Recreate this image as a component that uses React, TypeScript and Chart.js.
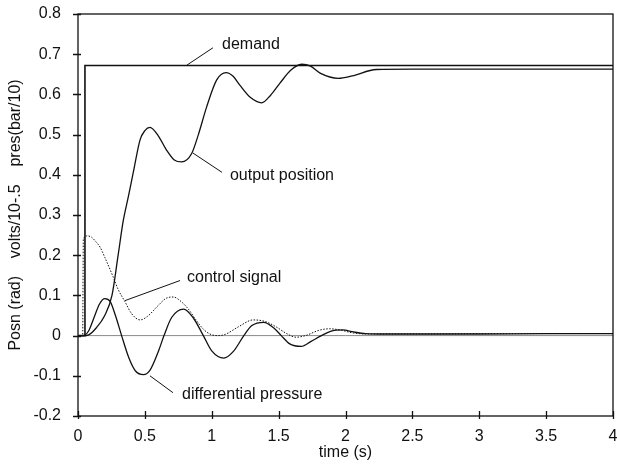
import React, { useEffect, useRef } from "react";
import { Chart, registerables } from "chart.js";

Chart.register(...registerables);

// Step response of the servo loop: time (s) against scaled signals
const demandT = [0, 0.05, 0.052, 4];
const demandV = [0, 0, 0.672, 0.672];

const outputT = [0, 0.04, 0.08, 0.136, 0.2, 0.254, 0.3, 0.339, 0.376, 0.414, 0.464, 0.5, 0.538, 0.6, 0.663, 0.72, 0.775, 0.85, 0.9, 0.962, 1.037, 1.107, 1.16, 1.21, 1.29, 1.373, 1.44, 1.51, 1.59, 1.672, 1.735, 1.81, 1.946, 2.05, 2.23, 2.5, 3, 3.5, 4];
const outputV = [0, 0, 0.002, 0.019, 0.05, 0.1, 0.2, 0.287, 0.345, 0.407, 0.487, 0.51, 0.518, 0.497, 0.461, 0.437, 0.432, 0.453, 0.5, 0.569, 0.636, 0.654, 0.645, 0.623, 0.592, 0.579, 0.598, 0.628, 0.66, 0.675, 0.671, 0.653, 0.64, 0.646, 0.662, 0.663, 0.663, 0.663, 0.663];

const controlT = [0, 0.035, 0.04, 0.07, 0.1, 0.13, 0.165, 0.2, 0.264, 0.3, 0.35, 0.4, 0.464, 0.52, 0.6, 0.66, 0.713, 0.77, 0.825, 0.88, 0.94, 1.0, 1.05, 1.1, 1.2, 1.31, 1.4, 1.48, 1.56, 1.63, 1.7, 1.8, 1.88, 1.96, 2.05, 2.16, 2.5, 3, 3.5, 4];
const controlV = [0, 0, 0.24, 0.248, 0.245, 0.235, 0.22, 0.195, 0.145, 0.115, 0.085, 0.055, 0.039, 0.048, 0.075, 0.093, 0.096, 0.085, 0.066, 0.04, 0.015, 0.002, 0, 0.003, 0.022, 0.039, 0.035, 0.022, 0.005, -0.004, 0, 0.013, 0.017, 0.014, 0.007, 0.004, 0.004, 0.005, 0.005, 0.005];

const pressureT = [0, 0.04, 0.08, 0.12, 0.16, 0.2, 0.24, 0.28, 0.326, 0.38, 0.43, 0.49, 0.54, 0.6, 0.643, 0.7, 0.79, 0.86, 0.937, 1.0, 1.09, 1.16, 1.24, 1.3, 1.39, 1.46, 1.52, 1.58, 1.67, 1.74, 1.82, 1.9, 1.98, 2.06, 2.15, 2.3, 3, 3.5, 4];
const pressureV = [0, 0, 0.012, 0.045, 0.078, 0.092, 0.085, 0.05, 0, -0.055, -0.088, -0.097, -0.085, -0.04, 0, 0.045, 0.066, 0.045, 0, -0.038, -0.056, -0.04, 0, 0.025, 0.033, 0.02, 0, -0.02, -0.027, -0.015, 0, 0.012, 0.014, 0.009, 0.005, 0.004, 0.004, 0.005, 0.005];

const xTicks = [0, 0.5, 1, 1.5, 2, 2.5, 3, 3.5, 4];
const yTicks = [-0.2, -0.1, 0, 0.1, 0.2, 0.3, 0.4, 0.5, 0.6, 0.7, 0.8];

// Callout labels: text anchor (t, v) and leader line from curve to label
const calloutText = ["demand", "output position", "control signal", "differential pressure"];
const calloutAt = [[1.077, 0.723], [1.136, 0.399], [0.815, 0.145], [0.778, -0.147]];
const leaderFrom = [[0.815, 0.673], [0.86, 0.454], [0.351, 0.087], [0.538, -0.1]];
const leaderTo = [[1.009, 0.716], [1.077, 0.406], [0.763, 0.137], [0.71, -0.142]];

const FONT = "'Liberation Sans', Arial, Helvetica, sans-serif";
const SIZE = 16;

const pts = (t: number[], v: number[]) => t.map((x, i) => ({ x, y: v[i] }));

const framePlugin = {
  id: "frame",
  beforeDatasetsDraw(chart: any) {
    const { ctx, chartArea: a, scales } = chart;
    const y0 = scales.y.getPixelForValue(0);
    ctx.save();
    ctx.strokeStyle = "#888";
    ctx.lineWidth = 1;
    ctx.beginPath();
    ctx.moveTo(a.left, y0);
    ctx.lineTo(a.right, y0);
    ctx.stroke();
    ctx.restore();
  },
  afterDraw(chart: any) {
    const { ctx, chartArea: a, scales } = chart;
    ctx.save();
    ctx.strokeStyle = "#111";
    ctx.lineWidth = 1.3;
    ctx.strokeRect(a.left, a.top, a.right - a.left, a.bottom - a.top);
    ctx.beginPath();
    yTicks.forEach((v) => {
      const y = Math.round(scales.y.getPixelForValue(v)) + 0.5;
      ctx.moveTo(a.left - 5, y);
      ctx.lineTo(a.left + 3, y);
    });
    xTicks.forEach((t) => {
      const x = Math.round(scales.x.getPixelForValue(t)) + 0.5;
      ctx.moveTo(x, a.bottom + 3);
      ctx.lineTo(x, a.bottom - 5);
    });
    ctx.stroke();

    ctx.font = `${SIZE}px ${FONT}`;
    ctx.fillStyle = "#111";
    ctx.textAlign = "left";
    ctx.textBaseline = "middle";
    ctx.lineWidth = 1;
    calloutText.forEach((txt, i) => {
      const fx = scales.x.getPixelForValue(leaderFrom[i][0]);
      const fy = scales.y.getPixelForValue(leaderFrom[i][1]);
      const tx = scales.x.getPixelForValue(leaderTo[i][0]);
      const ty = scales.y.getPixelForValue(leaderTo[i][1]);
      ctx.beginPath();
      ctx.moveTo(fx, fy);
      ctx.lineTo(tx, ty);
      ctx.stroke();
      ctx.fillText(
        txt,
        scales.x.getPixelForValue(calloutAt[i][0]),
        scales.y.getPixelForValue(calloutAt[i][1])
      );
    });
    ctx.restore();
  },
};

export default function App() {
  const ref = useRef<HTMLCanvasElement>(null);

  useEffect(() => {
    if (!ref.current) return;
    const line = { pointRadius: 0, borderColor: "#111", cubicInterpolationMode: "monotone" as const, fill: false };
    const chart = new Chart(ref.current, {
      type: "line",
      data: {
        datasets: [
          { label: "demand", data: pts(demandT, demandV), ...line, borderWidth: 1.6, cubicInterpolationMode: "default", tension: 0 },
          { label: "output position", data: pts(outputT, outputV), ...line, borderWidth: 1.3 },
          { label: "control signal", data: pts(controlT, controlV), ...line, borderWidth: 1, borderDash: [1.5, 1.5] },
          { label: "differential pressure", data: pts(pressureT, pressureV), ...line, borderWidth: 1.3 },
        ] as any,
      },
      options: {
        responsive: false,
        animation: false,
        layout: { padding: { top: 14, right: 4, left: 0, bottom: 0 } },
        plugins: { legend: { display: false }, tooltip: { enabled: false } },
        scales: {
          x: {
            type: "linear",
            min: 0,
            max: 4,
            grid: { display: false },
            border: { display: false },
            afterBuildTicks: (s: any) => { s.ticks = xTicks.map((value) => ({ value })); },
            afterFit: (s: any) => { s.height = 48; s.paddingLeft = 0; s.paddingRight = 0; },
            ticks: { color: "#111", padding: 3, font: { family: FONT, size: SIZE }, maxRotation: 0, callback: (v: any) => String(v) },
            title: { display: true, text: "time (s)", color: "#111", font: { family: FONT, size: SIZE }, padding: { top: 0, bottom: 2 } },
          },
          y: {
            type: "linear",
            min: -0.2,
            max: 0.8,
            grid: { display: false },
            border: { display: false },
            afterBuildTicks: (s: any) => { s.ticks = yTicks.map((value) => ({ value })); },
            afterFit: (s: any) => { s.width = 78; s.paddingTop = 0; s.paddingBottom = 0; },
            ticks: { color: "#111", padding: 9, font: { family: FONT, size: SIZE }, callback: (v: any) => String(Math.round(v * 10) / 10) },
            title: { display: true, text: "Posn (rad)    volts/10-.5    pres(bar/10)", color: "#111", font: { family: FONT, size: SIZE }, padding: { top: 6, bottom: 0 } },
          },
        },
      },
      plugins: [framePlugin],
    });
    return () => chart.destroy();
  }, []);

  return (
    <div style={{ position: "fixed", left: 0, top: 0, width: 617, height: 464, background: "#fff" }}>
      <canvas ref={ref} width={617} height={464} />
    </div>
  );
}
